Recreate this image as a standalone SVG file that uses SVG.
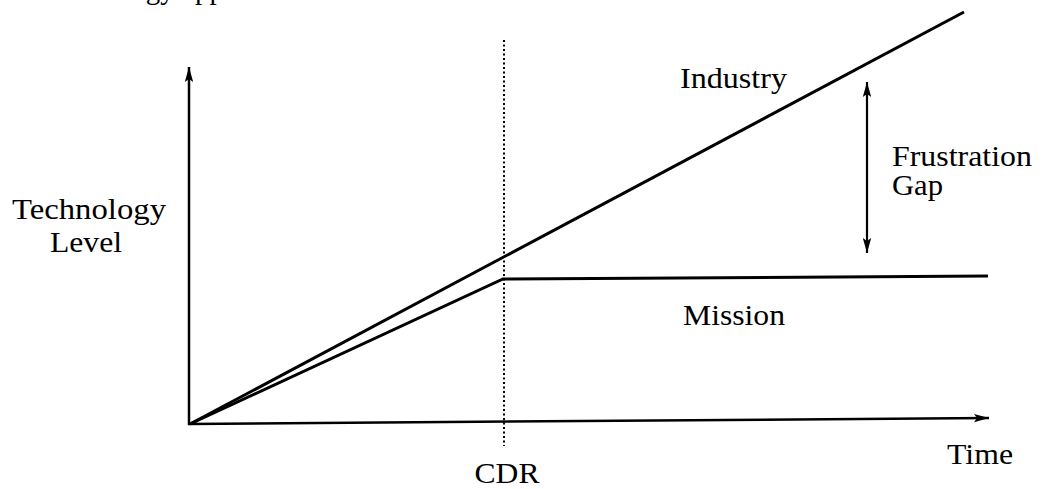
<svg xmlns="http://www.w3.org/2000/svg" width="1042" height="489" viewBox="0 0 1042 489">
<style>
  .lbl { font-family: "Liberation Serif", "DejaVu Serif", serif; font-size: 29px; fill: #000; }
  .ln { stroke: #000; fill: none; stroke-linecap: butt; stroke-linejoin: miter; }
</style>
<defs>
  <marker id="ah" markerUnits="userSpaceOnUse" markerWidth="16" markerHeight="10" refX="15" refY="5" orient="auto-start-reverse" viewBox="0 0 16 10">
    <path d="M0,0.8 L15,5 L0,9.2 L3,5 z" fill="#000"/>
  </marker>
</defs>
<rect width="1042" height="489" fill="#fff"/>
<text id="fragment" class="lbl" x="224" y="-1" text-anchor="end">technology app</text>
<g id="connectors">
  <line id="y-axis" class="ln" x1="189" y1="425" x2="189" y2="67" stroke-width="2.5" marker-end="url(#ah)"/>
  <line id="x-axis" class="ln" x1="188" y1="424" x2="989" y2="418" stroke-width="2.5" marker-end="url(#ah)"/>
  <line id="cdr-line" class="ln" x1="504" y1="40" x2="504" y2="446" stroke-width="2" stroke-dasharray="2 2.5"/>
  <line id="industry-line" class="ln" x1="190" y1="424" x2="964" y2="12" stroke-width="3"/>
  <polyline id="mission-line" class="ln" points="190,424 503,279 988,276" stroke-width="3"/>
  <line id="gap-arrow" class="ln" x1="867" y1="82" x2="867" y2="253" stroke-width="2.2" marker-start="url(#ah)" marker-end="url(#ah)"/>
</g>
<g id="label-tech"><text class="lbl" x="89" y="219" text-anchor="middle" textLength="154" lengthAdjust="spacingAndGlyphs">Technology</text>
<text class="lbl" x="86" y="252" text-anchor="middle" textLength="72" lengthAdjust="spacingAndGlyphs">Level</text></g>
<g id="label-industry"><text class="lbl" x="680" y="88" textLength="107" lengthAdjust="spacingAndGlyphs">Industry</text></g>
<g id="label-gap"><text class="lbl" x="892" y="166" textLength="140" lengthAdjust="spacingAndGlyphs">Frustration</text>
<text class="lbl" x="892" y="195" textLength="51" lengthAdjust="spacingAndGlyphs">Gap</text></g>
<g id="label-mission"><text class="lbl" x="683" y="325" textLength="102" lengthAdjust="spacingAndGlyphs">Mission</text></g>
<g id="label-time"><text class="lbl" x="947" y="464" textLength="66" lengthAdjust="spacingAndGlyphs">Time</text></g>
<g id="label-cdr"><text class="lbl" x="507" y="483" text-anchor="middle" textLength="65" lengthAdjust="spacingAndGlyphs">CDR</text></g>
</svg>
